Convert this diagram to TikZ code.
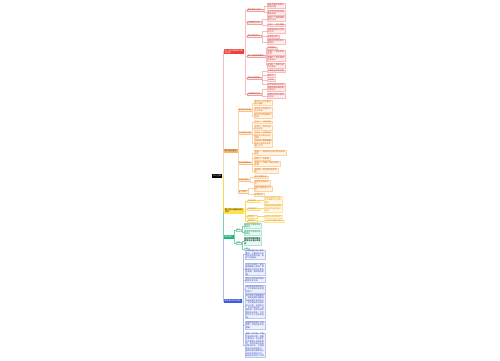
\documentclass[tikz,border=0pt]{standalone}
\usepackage{fontspec}
\usepackage{xcolor}
\usepackage{tikz}
\usetikzlibrary{positioning}
\newfontfamily\cjk{Noto Sans CJK SC}
\newcommand{\mapfont}{\cjk\fontsize{2}{2.4}\selectfont}
\definecolor{mred}{HTML}{E8413C}
\definecolor{morange}{HTML}{F6B56E}
\definecolor{myellow}{HTML}{FFE04D}
\definecolor{mgreen}{HTML}{1FB57A}
\definecolor{mblue}{HTML}{3F5BD6}
\tikzset{
  rootbox/.style={fill=black,text=white,font=\mapfont,inner xsep=1pt,inner ysep=0.9pt,anchor=west},
  mainbox/.style 2 args={fill=#1,text=#2,font=\mapfont,align=left,inner xsep=1pt,inner ysep=0.8pt,anchor=west},
  subbox/.style={draw=#1!50,fill=#1!6,text=#1!75!black,line width=0.2pt,font=\mapfont,align=left,inner xsep=0.8pt,inner ysep=0.4pt,anchor=west},
  leafbox/.style={draw=#1!35,fill=#1!9,text=#1!85!black,line width=0.2pt,font=\mapfont,align=left,inner xsep=0.8pt,inner ysep=0.3pt,anchor=west},
  link/.style={draw=#1,line width=0.35pt}
}
\begin{document}
\begin{tikzpicture}[x=1pt,y=-1pt]
    \useasboundingbox[fill=white] (0,0) rectangle (500,360);

    % Root
    \node[rootbox] (root) at (212,176) {中心主题};

    % Main branches
    \node[mainbox={mred}{white}] (rmain) at (223.5,51.5) {第一部分基础知识要\\点梳理};
    \node[mainbox={morange}{orange!40!black}] (omain) at (223.5,151) {第二部分重点};
    \node[mainbox={myellow}{black}] (ymain) at (224,211) {第三部分拓展阅读与\\思考};
    \node[mainbox={mgreen}{white}] (gmain) at (223.5,237) {第四部分};
    \node[mainbox={mblue}{white}] (bmain) at (223.5,301) {第五部分知识总结};

    \draw[link=mblue!40] (root.east) -- ++(0.8,0) |- (bmain.west);
    \draw[link=mgreen!60] (root.east) -- ++(0.8,0) |- (gmain.west);
    \draw[link=myellow!90!orange] (root.east) -- ++(0.8,0) |- (ymain.west);
    \draw[link=mred!35] (root.east) -- ++(0.8,0) |- (rmain.west);
    \draw[link=morange!60] (root.east) -- ++(0.8,0) |- (omain.west);

    % Branch one
    \node[subbox=mred] (r1) at (247,10) {基本概念与定义};
    \node[subbox=mred] (r2) at (247,22.5) {主要特征分析};
    \node[subbox=mred] (r3) at (247,36) {常见类型划分};
    \node[subbox=mred] (r4) at (247,56) {核心原理说明要点};
    \node[subbox=mred] (r5) at (247,78) {实际应用场景};
    \node[subbox=mred] (r6) at (247,94) {注意事项总结};
    \foreach \n in {r1,r2,r3,r4,r5,r6}
        \draw[link=mred!35] (rmain.east) -- ++(1,0) |- (\n.west);

    \node[leafbox=mred] (r1a) at (267,6) {概念的提出背景与\\发展过程};
    \node[leafbox=mred] (r1b) at (267,12.5) {定义中包含的关键\\要素说明};
    \node[leafbox=mred] (r2a) at (267,19) {特征一：结构清晰\\层次分明};
    \node[leafbox=mred] (r2b) at (267,25) {特征二：便于理解};
    \node[leafbox=mred] (r3a) at (267,31) {按照来源进行分类\\的方法};
    \node[leafbox=mred] (r3b) at (267,36.5) {按用途分类};
    \node[leafbox=mred] (r3c) at (267,42) {按照形式划分的几\\种情况};
    \node[leafbox=mred] (r4a) at (267,48) {原理概述};
    \node[leafbox=mred] (r4b) at (267,52.5) {原理一：相互作用\\关系};
    \node[leafbox=mred] (r4c) at (267,59) {原理二：变化规律\\及其条件};
    \node[leafbox=mred] (r4d) at (267,65.5) {原理三：整体与部\\分的联系};
    \node[leafbox=mred] (r5a) at (267,71) {日常生活中的应用};
    \node[leafbox=mred] (r5b) at (267,75.5) {教学中};
    \node[leafbox=mred] (r5c) at (267,80) {工作中};
    \node[leafbox=mred] (r5d) at (267,84.5) {研究领域中的应用};
    \node[leafbox=mred] (r6a) at (267,89) {容易混淆的概念需\\注意区分};
    \node[leafbox=mred] (r6b) at (267,96) {答题时的常见错误\\与应对};
    \foreach \p/\c in {r1/r1a,r1/r1b,r2/r2a,r2/r2b,r3/r3a,r3/r3b,r3/r3c,r4/r4a,r4/r4b,r4/r4c,r4/r4d,r5/r5a,r5/r5b,r5/r5c,r5/r5d,r6/r6a,r6/r6b}
        \draw[link=mred!35] (\p.east) -- ++(1.2,0) |- (\c.west);

    % Branch two
    \node[subbox=orange] (o1) at (238,110) {重点知识梳理};
    \node[subbox=orange] (o2) at (238,133) {方法技巧归纳};
    \node[subbox=orange] (o3) at (238,163) {典型例题解析};
    \node[subbox=orange] (o4) at (238,180) {易错点提示};
    \node[subbox=orange] (o5) at (238,191.5) {复习建议};
    \foreach \n in {o1,o2,o3,o4,o5}
        \draw[link=morange!60] (omain.east) -- ++(0.6,0) |- (\n.west);

    \node[leafbox=orange] (o1a) at (254,103) {知识点一的主要内\\容与理解};
    \node[leafbox=orange] (o1b) at (254,109.5) {知识点二的基本方\\法与步骤};
    \node[leafbox=orange] (o1c) at (254,116) {知识点三的拓展与\\延伸};
    \node[leafbox=orange] (o2a) at (254,122) {方法一：归纳总结};
    \node[leafbox=orange] (o2b) at (254,128) {方法二：对比分析\\找出异同};
    \node[leafbox=orange] (o2c) at (254,135.5) {方法三：举例说明\\结合实际情况进行\\理解};
    \node[leafbox=orange] (o2d) at (254,143.5) {方法四：图表整理\\使知识更加系统化\\便于记忆};
    \node[leafbox=orange] (o3a) at (254,153) {例题一：根据材料分析问题并给出\\结论};
    \node[leafbox=orange] (o3b) at (254,158.5) {例题二：选择题};
    \node[leafbox=orange] (o3c) at (254,164) {例题三：判断下列说法是否\\正确};
    \node[leafbox=orange] (o3d) at (254,171) {例题四：简答题的答题思\\路};
    \node[leafbox=orange] (o4a) at (254,177) {概念理解错误};
    \node[leafbox=orange] (o4b) at (254,182.5) {审题不清导致失\\分};
    \node[leafbox=orange] (o5a) at (254,188.5) {制定合理的复习计\\划};
    \node[leafbox=orange] (o5b) at (254,194.5) {多做练习};
    \foreach \p/\c in {o1/o1a,o1/o1b,o1/o1c,o2/o2a,o2/o2b,o2/o2c,o2/o2d,o3/o3a,o3/o3b,o3/o3c,o3/o3d,o4/o4a,o4/o4b,o5/o5a,o5/o5b}
        \draw[link=morange!60] (\p.east) -- ++(0.8,0) |- (\c.west);

    % Branch three
    \node[subbox=orange!60!yellow] (y1) at (247,201) {阅读材料一};
    \node[subbox=orange!60!yellow] (y2) at (247,209) {阅读材料二};
    \node[subbox=orange!60!yellow] (y3) at (247,216.5) {思考题一};
    \node[subbox=orange!60!yellow] (y4) at (247,221) {思考题二};
    \foreach \n in {y1,y2,y3,y4}
        \draw[link=myellow!90!orange] (ymain.east) -- ++(1,0) |- (\n.west);

    \node[leafbox=orange!60!yellow] (y1a) at (264,200) {材料内容简介以及\\与本章知识之间的\\联系};
    \node[leafbox=orange!60!yellow] (y2a) at (264,208.5) {材料中涉及的主要\\观点和作者的看法\\分析};
    \node[leafbox=orange!60!yellow] (y3a) at (264,216.5) {结合生活实例说明};
    \node[leafbox=orange!60!yellow] (y4a) at (264,221) {谈谈你的理解和看法};
    \foreach \p/\c in {y1/y1a,y2/y2a,y3/y3a,y4/y4a}
        \draw[link=myellow!90!orange] (\p.east) -- ++(0.6,0) |- (\c.west);

    % Branch four
    \node[subbox=mgreen] (g1) at (235.5,230) {练习};
    \node[subbox=mgreen] (g2) at (235.5,243) {测试};
    \foreach \n in {g1,g2}
        \draw[link=mgreen!60] (gmain.east) -- ++(0.5,0) |- (\n.west);

    \node[leafbox=mgreen] (g1a) at (243.5,226) {基础练习题目及答\\案解析};
    \node[leafbox=mgreen] (g1b) at (243.5,232.5) {提高练习题目及答\\案解析};
    \node[leafbox=mgreen,text=mgreen!50!black,font=\mapfont\bfseries] (g2a) at (243.5,241) {单元测试卷的重点\\题型与分值分布情\\况};
    \node[leafbox=mgreen] (g2a2) at (243.5,249) {小结};
    \foreach \p/\c in {g1/g1a,g1/g1b,g2/g2a,g2/g2a2}
        \draw[link=mgreen!60] (\p.east) -- ++(0.6,0) |- (\c.west);

    % Branch five
    \node[leafbox=mblue] (b1) at (245,254.5) {本章主要介绍了基本\\概念、主要特征以及\\常见类型等内容，是\\学习的基础。};
    \node[leafbox=mblue] (b2) at (245,269.5) {在学习过程中，要注\\意理解核心原理，掌\\握相互作用关系和变\\化规律，做到融会贯\\通。};
    \node[leafbox=mblue] (b3) at (245,280) {重点方法包括归纳总\\结和对比分析。};
    \node[leafbox=mblue] (b4) at (245,289) {通过典型例题的练习\\，可以提高分析问题\\的能力。};
    \node[leafbox=mblue] (b5) at (245,306.5) {复习时应注意易错点\\，避免因概念理解错\\误或审题不清而失分\\。同时要制定合理的\\复习计划，多做练习\\，及时总结经验，查\\漏补缺，逐步形成完\\整的知识体系，为后\\续学习打下坚实的基\\础。};
    \node[leafbox=mblue] (b6) at (245,325) {拓展阅读有助于开阔\\视野，加深对知识的\\理解。};
    \node[leafbox=mblue] (b7) at (245,345) {最后，学习是一个循\\序渐进的过程，需要\\长期坚持。在日常生\\活中要善于观察和思\\考，将所学知识运用\\到实际中去，不断提\\高自己的综合能力。\\遇到问题时要积极主\\动地寻求解决方法，\\保持良好的学习习惯};
    \foreach \n in {b1,b2,b3,b4,b5,b6,b7}
        \draw[link=mblue!40] (bmain.east) -- ++(0.8,0) |- (\n.west);
\end{tikzpicture}
\end{document}
